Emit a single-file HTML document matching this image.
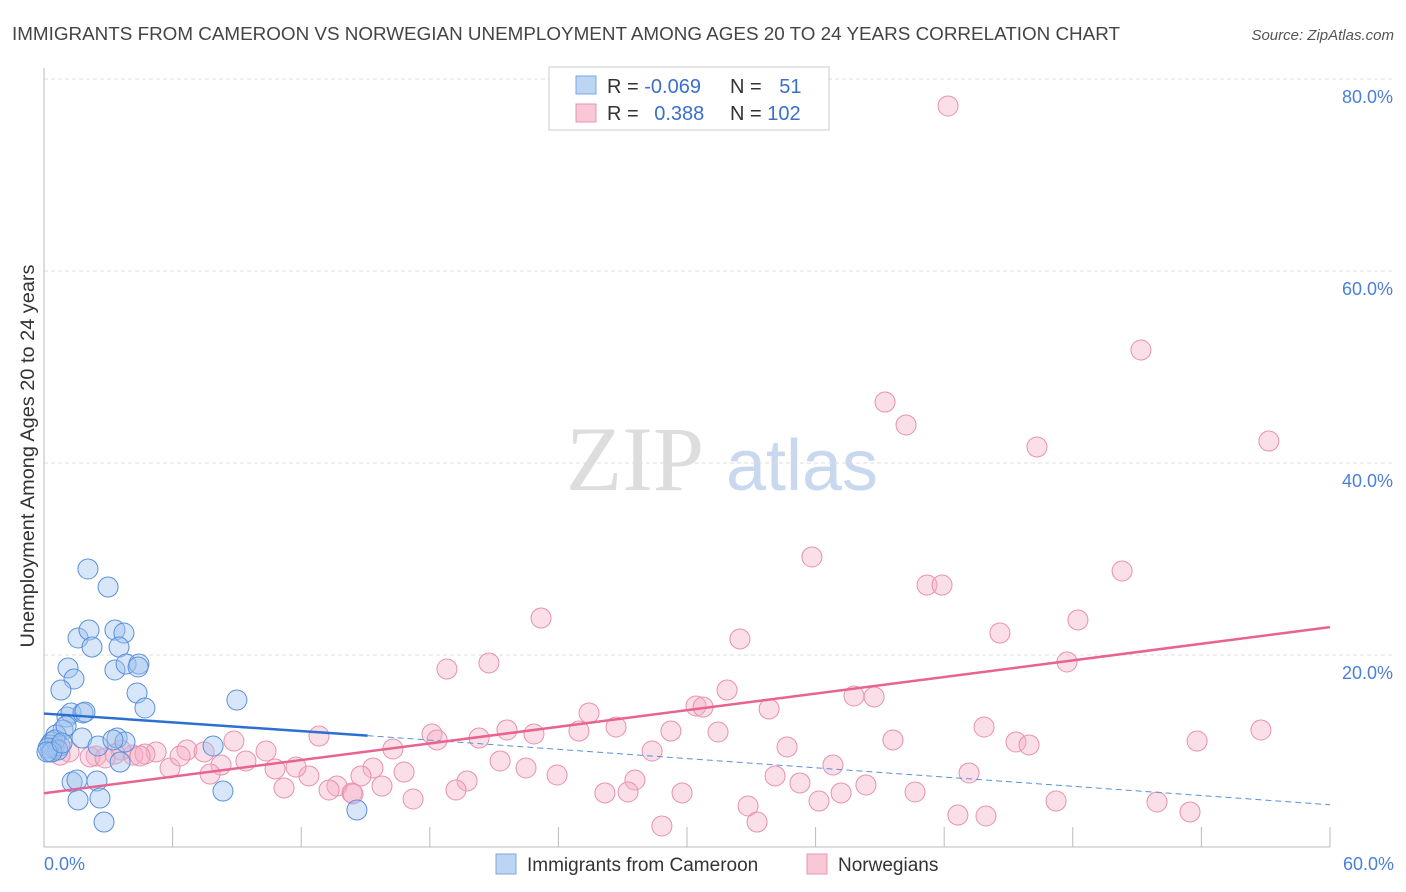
<!DOCTYPE html>
<html><head><meta charset="utf-8"><style>
body{margin:0;background:#fff;font-family:"Liberation Sans",sans-serif}
svg{display:block}
</style></head><body>
<svg id="chart" width="1406" height="892">
<text x="12" y="40" font-size="18" fill="#444" textLength="1108" lengthAdjust="spacingAndGlyphs">IMMIGRANTS FROM CAMEROON VS NORWEGIAN UNEMPLOYMENT AMONG AGES 20 TO 24 YEARS CORRELATION CHART</text>
<text x="1394" y="40" font-size="15" fill="#555" font-style="italic" text-anchor="end">Source: ZipAtlas.com</text>
<text x="0" y="0" font-size="19" fill="#333" text-anchor="middle" textLength="383" lengthAdjust="spacingAndGlyphs" transform="translate(34,456) rotate(-90)">Unemployment Among Ages 20 to 24 years</text>
<g><text x="635" y="490" font-size="92" fill="#ddd" font-family="Liberation Serif,serif" text-anchor="middle">ZIP</text><text x="802" y="490" font-size="72" fill="#c8d8ee" text-anchor="middle">atlas</text></g>
<g id="grid"></g><g id="axes"></g><g id="pts"></g><g id="lines"></g>
<g>
<rect x="549" y="67" width="280" height="63" fill="#fff" stroke="#ccc"/>
<rect x="576" y="76" width="20" height="18" fill="#bcd5f3" stroke="#7aa8e6"/>
<text x="607" y="93" font-size="20" fill="#333">R = <tspan fill="#3a6fd0">-0.069</tspan></text>
<text x="730" y="93" font-size="20" fill="#333">N = <tspan dx="12" fill="#3a6fd0">51</tspan></text>
<rect x="576" y="104" width="20" height="18" fill="#f8c8d6" stroke="#ea93b0"/>
<text x="607" y="120" font-size="20" fill="#333">R = <tspan dx="10" fill="#3a6fd0">0.388</tspan></text>
<text x="730" y="120" font-size="20" fill="#333">N = <tspan fill="#3a6fd0">102</tspan></text>
</g>
<g>
<rect x="496" y="854" width="20" height="20" fill="#bcd5f3" stroke="#7aa8e6"/>
<text x="527" y="871" font-size="19" fill="#333">Immigrants from Cameroon</text>
<rect x="807" y="854" width="20" height="20" fill="#f8c8d6" stroke="#ea93b0"/>
<text x="838" y="871" font-size="19" fill="#333">Norwegians</text>
</g>
</svg>
<script>
const xTicks=[0,6,12,18,24,30,36,42,48,54,60];
const yTicks=[20,40,60,80];
const bluePx=[[88,569],[108,587],[78,638],[89,630],[115,630],[124,633],[92,647],[119,647],[115,670],[126,664],[139,664],[138,667],[68,668],[74,679],[61,690],[137,693],[145,708],[237,700],[67,717],[71,713],[83,713],[85,712],[63,730],[56,735],[52,742],[54,748],[50,752],[60,746],[82,738],[98,746],[117,738],[125,742],[120,762],[113,740],[72,782],[77,780],[97,781],[78,800],[100,798],[104,822],[213,746],[223,791],[357,810],[50,745],[55,740],[58,750],[66,726],[48,748],[52,752],[47,752],[62,743]];
const pinkPx=[[948,106],[1141,350],[885,402],[906,425],[1037,447],[1269,441],[812,557],[1122,571],[927,585],[942,585],[541,618],[1000,633],[1078,620],[740,639],[489,663],[447,669],[1067,662],[727,690],[854,696],[874,697],[696,706],[703,707],[769,709],[589,713],[616,727],[579,731],[507,730],[534,734],[479,738],[432,734],[437,740],[984,727],[893,740],[718,732],[671,731],[1261,730],[1197,741],[1016,742],[1029,745],[652,751],[787,747],[393,749],[234,741],[319,736],[266,751],[187,750],[204,752],[156,752],[133,755],[145,754],[121,750],[96,756],[115,754],[69,752],[60,755],[500,761],[833,765],[969,773],[775,776],[800,783],[635,780],[526,768],[557,775],[467,781],[373,768],[361,776],[404,772],[382,786],[337,786],[309,776],[275,769],[296,767],[246,761],[221,765],[170,768],[210,774],[284,788],[329,790],[352,793],[353,794],[413,799],[456,790],[605,793],[628,792],[682,793],[915,792],[841,793],[866,785],[748,806],[819,801],[1056,801],[1157,802],[958,815],[986,816],[757,822],[662,826],[1190,812],[90,757],[105,758],[140,756],[180,756]];
const blueX=bluePx.map(p=>+((p[0]-44)/21.433).toFixed(2));
const blueY=bluePx.map(p=>+((847-p[1])/9.6).toFixed(2));
const pinkX=pinkPx.map(p=>+((p[0]-44)/21.433).toFixed(2));
const pinkY=pinkPx.map(p=>+((847-p[1])/9.6).toFixed(2));
const blueTrend=[13.9,0,15.1,11.6,60,4.4];
const pinkTrend=[5.6,60,22.9];
const X=v=>44+v*21.433, Y=v=>847-v*9.6;
const NS="http://www.w3.org/2000/svg";
function mk(tag,attrs,parent){const e=document.createElementNS(NS,tag);for(const k in attrs)e.setAttribute(k,attrs[k]);document.getElementById(parent).appendChild(e);return e;}
const ax=mk('line',{x1:44,y1:68,x2:44,y2:847,stroke:'#bbb'},'axes');


const bx=mk('line',{x1:44,y1:847,x2:1330,y2:847,stroke:'#bbb'},'axes');


xTicks.forEach(t=>{const l=mk('line',{x1:X(t),y1:827,x2:X(t),y2:847,stroke:'#bbb'},'axes');

});
const xl0=mk('text',{x:44,y:870,'font-size':18,fill:'#4a7fd8'},'axes');xl0.textContent=xTicks[0].toFixed(1)+'%';


const xl1=mk('text',{x:1394,y:870,'font-size':18,fill:'#4a7fd8','text-anchor':'end'},'axes');xl1.textContent=xTicks[xTicks.length-1].toFixed(1)+'%';


yTicks.forEach(t=>{const g=mk('line',{x1:44,y1:Y(t),x2:1394,y2:Y(t),stroke:'#ddd','stroke-dasharray':'4,3'},'grid');


const tx=mk('text',{x:1393,y:Y(t)+24,'font-size':18,fill:'#4a7fd8','text-anchor':'end'},'axes');tx.textContent=t.toFixed(1)+'%';

});
pinkX.forEach((x,i)=>{const c=mk('circle',{cx:X(x),cy:Y(pinkY[i]),r:10,fill:'rgba(244,170,195,0.38)',stroke:'#e890b0','stroke-width':1},'pts');

});
blueX.forEach((x,i)=>{const c=mk('circle',{cx:X(x),cy:Y(blueY[i]),r:10,fill:'rgba(160,195,238,0.42)',stroke:'#5b90da','stroke-width':1},'pts');

});
const b1=mk('line',{x1:X(blueTrend[1]),y1:Y(blueTrend[0]),x2:X(blueTrend[2]),y2:Y(blueTrend[3]),stroke:'#2d6fd0','stroke-width':2.5},'lines');


const b2=mk('line',{x1:X(blueTrend[2]),y1:Y(blueTrend[3]),x2:X(blueTrend[4]),y2:Y(blueTrend[5]),stroke:'#5b90da','stroke-width':1,'stroke-dasharray':'6,4'},'lines');


const p1=mk('line',{x1:X(0),y1:Y(pinkTrend[0]),x2:X(pinkTrend[1]),y2:Y(pinkTrend[2]),stroke:'#e8638f','stroke-width':2.5},'lines');


</script>
</body></html>
